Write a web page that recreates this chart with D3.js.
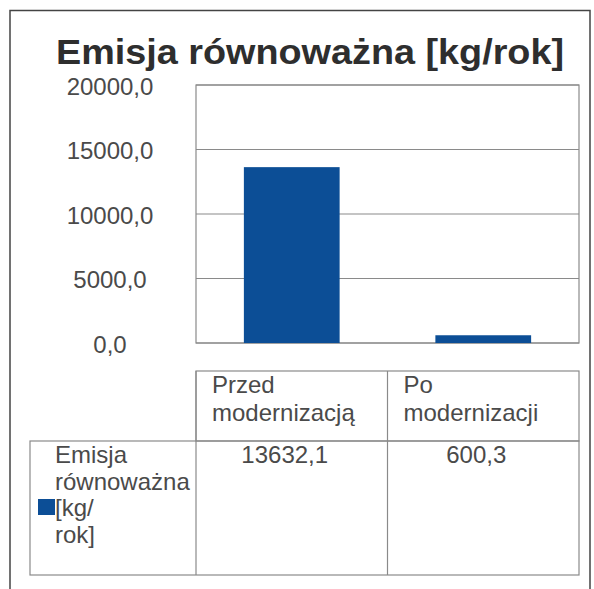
<!DOCTYPE html>
<html>
<head>
<meta charset="utf-8">
<script src="https://cdn.jsdelivr.net/npm/d3@7"></script>
<style>
  html, body { margin: 0; padding: 0; background: #fff; }
  svg { display: block; }
  text { font-family: "Liberation Sans", Arial, sans-serif; }
</style>
</head>
<body>
<svg id="chart" width="594" height="589"></svg>
<script>
// ---- data ----
const title = "Emisja równoważna [kg/rok]";
const categories = ["Przed modernizacją", "Po modernizacji"];
const categoryLines = [["Przed", "modernizacją"], ["Po", "modernizacji"]];
const seriesName = "Emisja równoważna [kg/rok]";
const seriesLines = ["Emisja", "równoważna", "[kg/", "rok]"];
const values = [13632.1, 600.3];
const yTicks = [0, 5000, 10000, 15000, 20000];

// ---- layout ----
const svg = d3.select("#chart");
const plot = { left: 196, right: 579, top: 85, bottom: 343 };
const barColor = "#0c4e96";
const gridColor = "#8a8a8a";
const textColor = "#4a4a4a";

const locale = d3.formatLocale({ decimal: ",", thousands: "", grouping: [3], currency: ["", ""] });
const fmt = locale.format(".1f");

const y = d3.scaleLinear().domain([0, 20000]).range([plot.bottom, plot.top]);
const x = d3.scaleBand().domain(categories).range([plot.left, plot.right])
  .paddingInner(0.5).paddingOuter(0.25);

// outer frame
svg.append("path")
  .attr("d", "M10,600 L10,10.5 L590,10.5 L590,600")
  .attr("fill", "none").attr("stroke", "#444").attr("stroke-width", 1.5);

// title
svg.append("text")
  .attr("x", 56).attr("y", 64)
  .attr("font-size", 35).attr("font-weight", "bold")
  .attr("fill", "#2e2e2e")
  .attr("textLength", 508).attr("lengthAdjust", "spacingAndGlyphs")
  .text(title);

// gridlines
svg.append("g").selectAll("line").data(yTicks).join("line")
  .attr("x1", plot.left).attr("x2", plot.right)
  .attr("y1", d => y(d)).attr("y2", d => y(d))
  .attr("stroke", gridColor).attr("stroke-width", 1.2);

// plot border
svg.append("rect")
  .attr("x", plot.left).attr("y", plot.top)
  .attr("width", plot.right - plot.left).attr("height", plot.bottom - plot.top)
  .attr("fill", "none").attr("stroke", gridColor).attr("stroke-width", 1.2);

// bars
svg.append("g").selectAll("rect").data(values).join("rect")
  .attr("x", (d, i) => x(categories[i]))
  .attr("width", x.bandwidth())
  .attr("y", d => y(d))
  .attr("height", d => y(0) - y(d))
  .attr("fill", barColor);

// y axis labels
const yAxis = d3.axisLeft(y).tickValues(yTicks).tickSize(0).tickFormat(fmt);
const gy = svg.append("g").attr("transform", `translate(${plot.left},0)`).call(yAxis);
gy.select(".domain").remove();
gy.selectAll("text")
  .attr("x", 110 - plot.left)
  .attr("dy", null)
  .attr("y", 9)
  .attr("text-anchor", "middle")
  .attr("font-size", 24)
  .attr("font-family", "'Liberation Sans', Arial, sans-serif")
  .attr("fill", textColor);

// ---- data table ----
const colW = (plot.right - plot.left) / categories.length;
const colLeft = i => plot.left + i * colW;
const headTop = 371, rowTop = 441, rowBottom = 575, tableLeft = 30;
const tg = svg.append("g").attr("stroke", gridColor).attr("stroke-width", 1.2).attr("fill", "none");

// header row
tg.append("rect").attr("x", plot.left).attr("y", headTop)
  .attr("width", plot.right - plot.left).attr("height", rowTop - headTop);
// data row
tg.append("rect").attr("x", tableLeft).attr("y", rowTop)
  .attr("width", plot.right - tableLeft).attr("height", rowBottom - rowTop);
// column dividers
tg.selectAll("line.col").data(d3.range(categories.length)).join("line")
  .attr("class", "col")
  .attr("x1", i => colLeft(i)).attr("x2", i => colLeft(i))
  .attr("y1", headTop).attr("y2", rowBottom);

// header labels
const hg = svg.append("g");
categoryLines.forEach((lines, i) => {
  hg.append("g").selectAll("text").data(lines).join("text")
    .attr("x", colLeft(i) + 16)
    .attr("y", (d, j) => 393 + j * 28)
    .attr("font-size", 24)
    .attr("fill", textColor)
    .text(d => d);
});

// series label
svg.append("g").selectAll("text").data(seriesLines).join("text")
  .attr("x", 55)
  .attr("y", (d, j) => 463 + j * 26.5)
  .attr("font-size", 24)
  .attr("fill", textColor)
  .text(d => d);

// legend key
svg.append("rect")
  .attr("x", 38).attr("y", 499).attr("width", 17).attr("height", 16)
  .attr("fill", barColor);

// values
svg.append("g").selectAll("text").data(values).join("text")
  .attr("x", (d, i) => colLeft(i) + colW / 2 - 7)
  .attr("y", 463)
  .attr("text-anchor", "middle")
  .attr("font-size", 24)
  .attr("fill", textColor)
  .text(d => fmt(d));
</script>
</body>
</html>
